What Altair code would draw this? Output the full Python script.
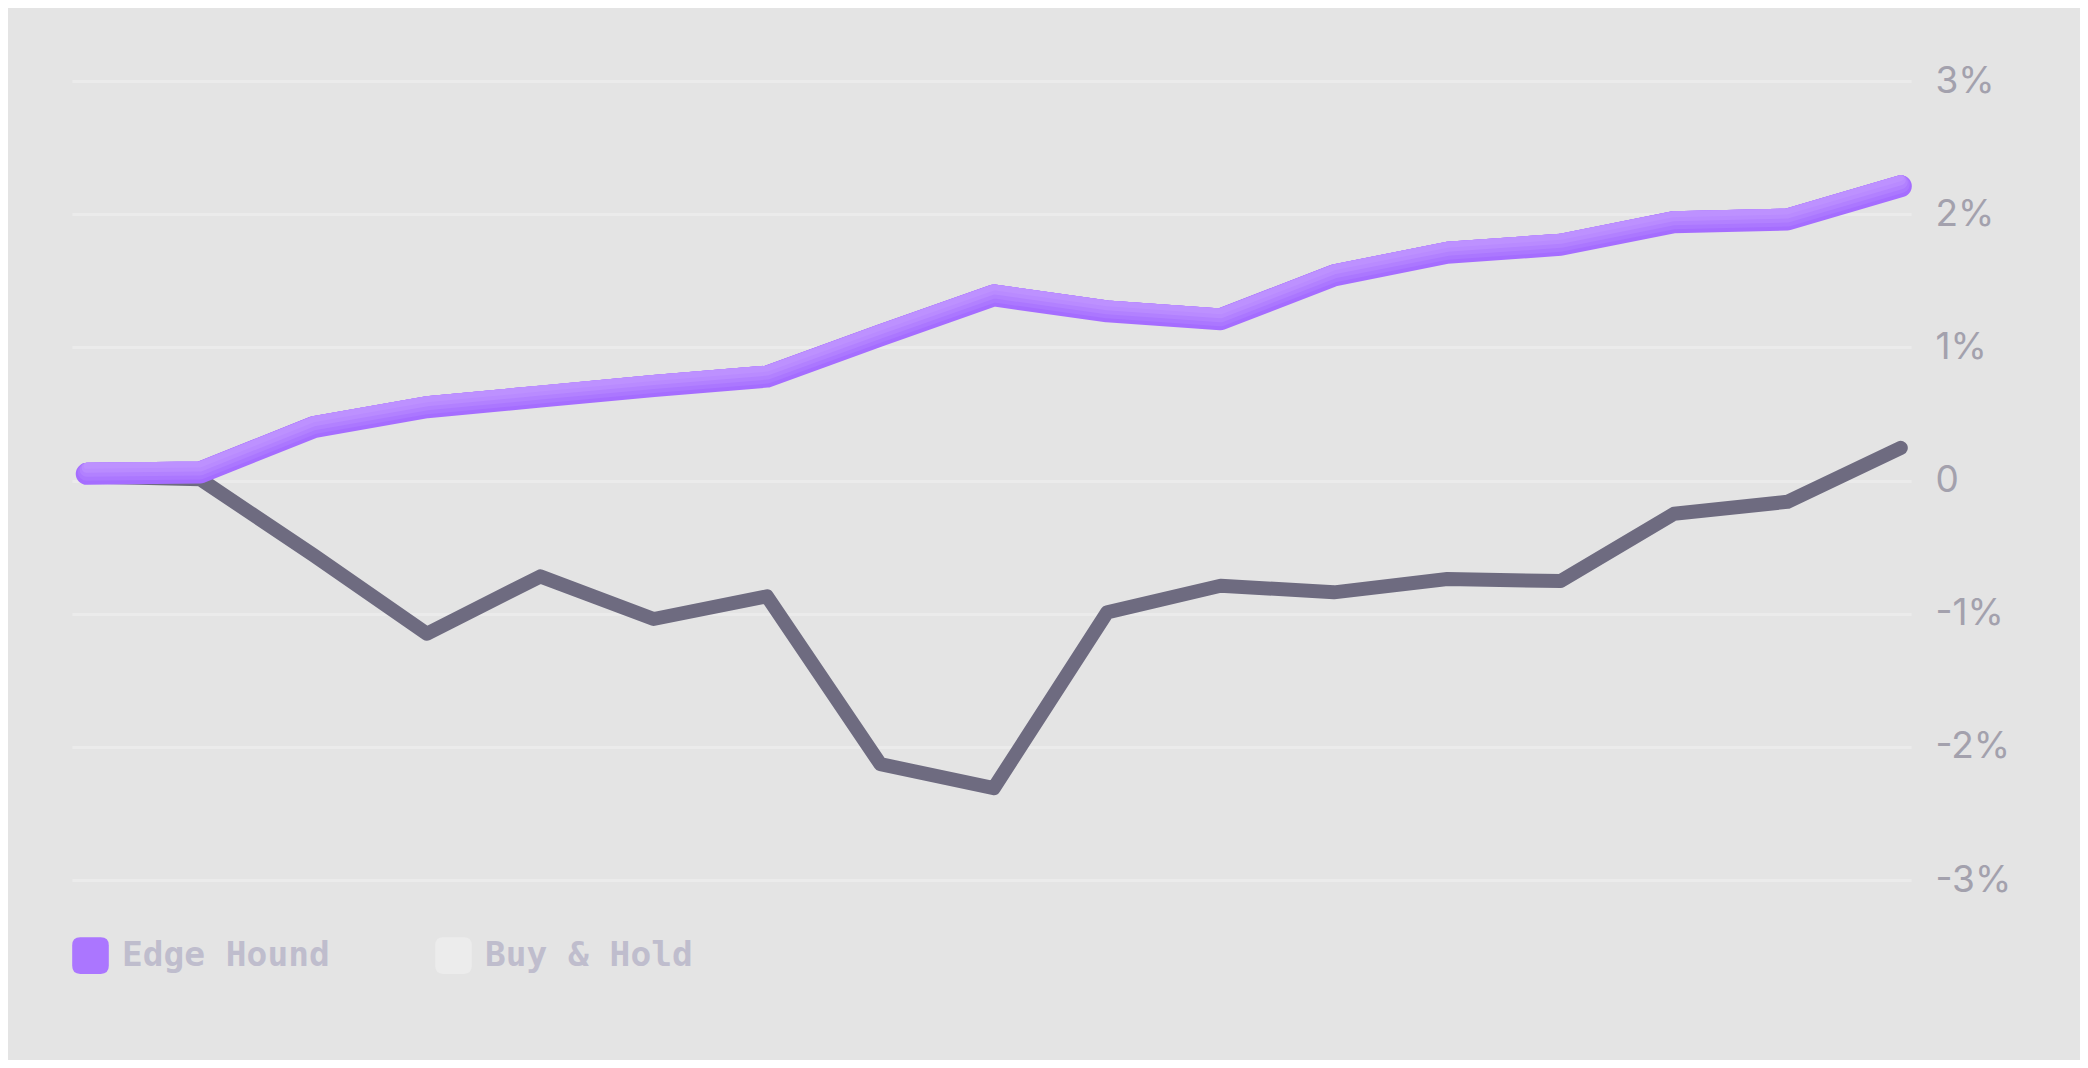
import altair as alt
import pandas as pd

# ---- data ----
periods = [0, 1, 2, 3, 4, 5, 6, 7, 8, 9, 10, 11, 12, 13, 14, 15, 16]
edge_hound = [0.05, 0.06, 0.40, 0.55, 0.63, 0.71, 0.78, 1.09, 1.39, 1.27, 1.21,
              1.54, 1.71, 1.77, 1.94, 1.96, 2.21]
buy_hold = [0.03, 0.01, -0.56, -1.15, -0.72, -1.04, -0.87, -2.13, -2.31, -0.99,
            -0.79, -0.84, -0.74, -0.755, -0.25, -0.16, 0.245]
series_names = ["Edge Hound", "Buy & Hold"]
y_ticks = [-3, -2, -1, 0, 1, 2, 3]

df = pd.DataFrame({
    "period": periods + periods,
    "value": edge_hound + buy_hold,
    "series": [series_names[0]] * len(periods) + [series_names[1]] * len(periods),
})

ROUNDED = ("M -0.56,-1 L 0.56,-1 Q 1,-1 1,-0.56 L 1,0.56 Q 1,1 0.56,1 "
           "L -0.56,1 Q -1,1 -1,0.56 L -1,-0.56 Q -1,-1 -0.56,-1 Z")

x_enc = alt.X("period:Q", axis=None,
              scale=alt.Scale(domain=[-0.13, 16.09], nice=False, zero=False))
y_scale = alt.Scale(domain=[-3, 3], nice=False, zero=False)
y_axis = alt.Axis(
    orient="right", values=y_ticks, title=None, domain=False, ticks=False,
    grid=True, gridColor="#ebebeb", gridWidth=3,
    labelFont="Inter", labelFontSize=37, labelColor="#a3a1ad",
    labelPadding=24, labelAlign="left", labelBaseline="middle",
    labelExpr="datum.value == 0 ? '0' : datum.value + '%'",
)

base = alt.Chart(df)

gray_line = base.transform_filter(alt.datum.series == "Buy & Hold").mark_line(
    color="#6e6b80", strokeWidth=14, strokeCap="round", strokeJoin="round"
).encode(x=x_enc, y=alt.Y("value:Q", scale=y_scale, axis=y_axis))

purple = base.transform_filter(alt.datum.series == "Edge Hound")


def purple_layer(color, width, offset):
    kw = dict(color=color, strokeWidth=width, strokeCap="round", strokeJoin="round")
    if offset:
        kw["yOffset"] = offset
    return purple.mark_line(**kw).encode(x=x_enc, y=alt.Y("value:Q", scale=y_scale))


p_layers = [
    purple_layer("#a56dff", 22, 0),
    purple_layer("#ab77ff", 18, -2),
    purple_layer("#b281ff", 14, -4),
    purple_layer("#b98bff", 10, -6),
    purple_layer("#bd91ff", 6, -8),
]

legend_layer = base.mark_point(filled=True, opacity=0, shape=ROUNDED, size=1).encode(
    x=x_enc,
    y=alt.Y("value:Q", scale=y_scale),
    fill=alt.Fill(
        "series:N",
        scale=alt.Scale(domain=series_names, range=["#ab76ff", "#ececec"]),
        legend=alt.Legend(
            title=None, orient="none", legendX=0, legendY=856,
            direction="horizontal", symbolType=ROUNDED, symbolSize=1340,
            symbolOpacity=1, symbolStrokeWidth=0,
            labelFont="DejaVu Sans Mono", labelFontSize=34.5, labelFontWeight="bold",
            labelColor="#bfbdcd",
            labelOffset=13, labelLimit=600, columnPadding=105, padding=0,
        ),
    ),
)

chart = alt.layer(gray_line, *p_layers, legend_layer).properties(
    width=1839, height=799,
    padding={"left": 64, "top": 73, "right": 169, "bottom": 180},
    autosize=alt.AutoSizeParams(type="none"),
    background="#e4e4e4",
).configure_view(stroke=None)

chart.save("out.html", embed_options={"renderer": "svg", "actions": False})
